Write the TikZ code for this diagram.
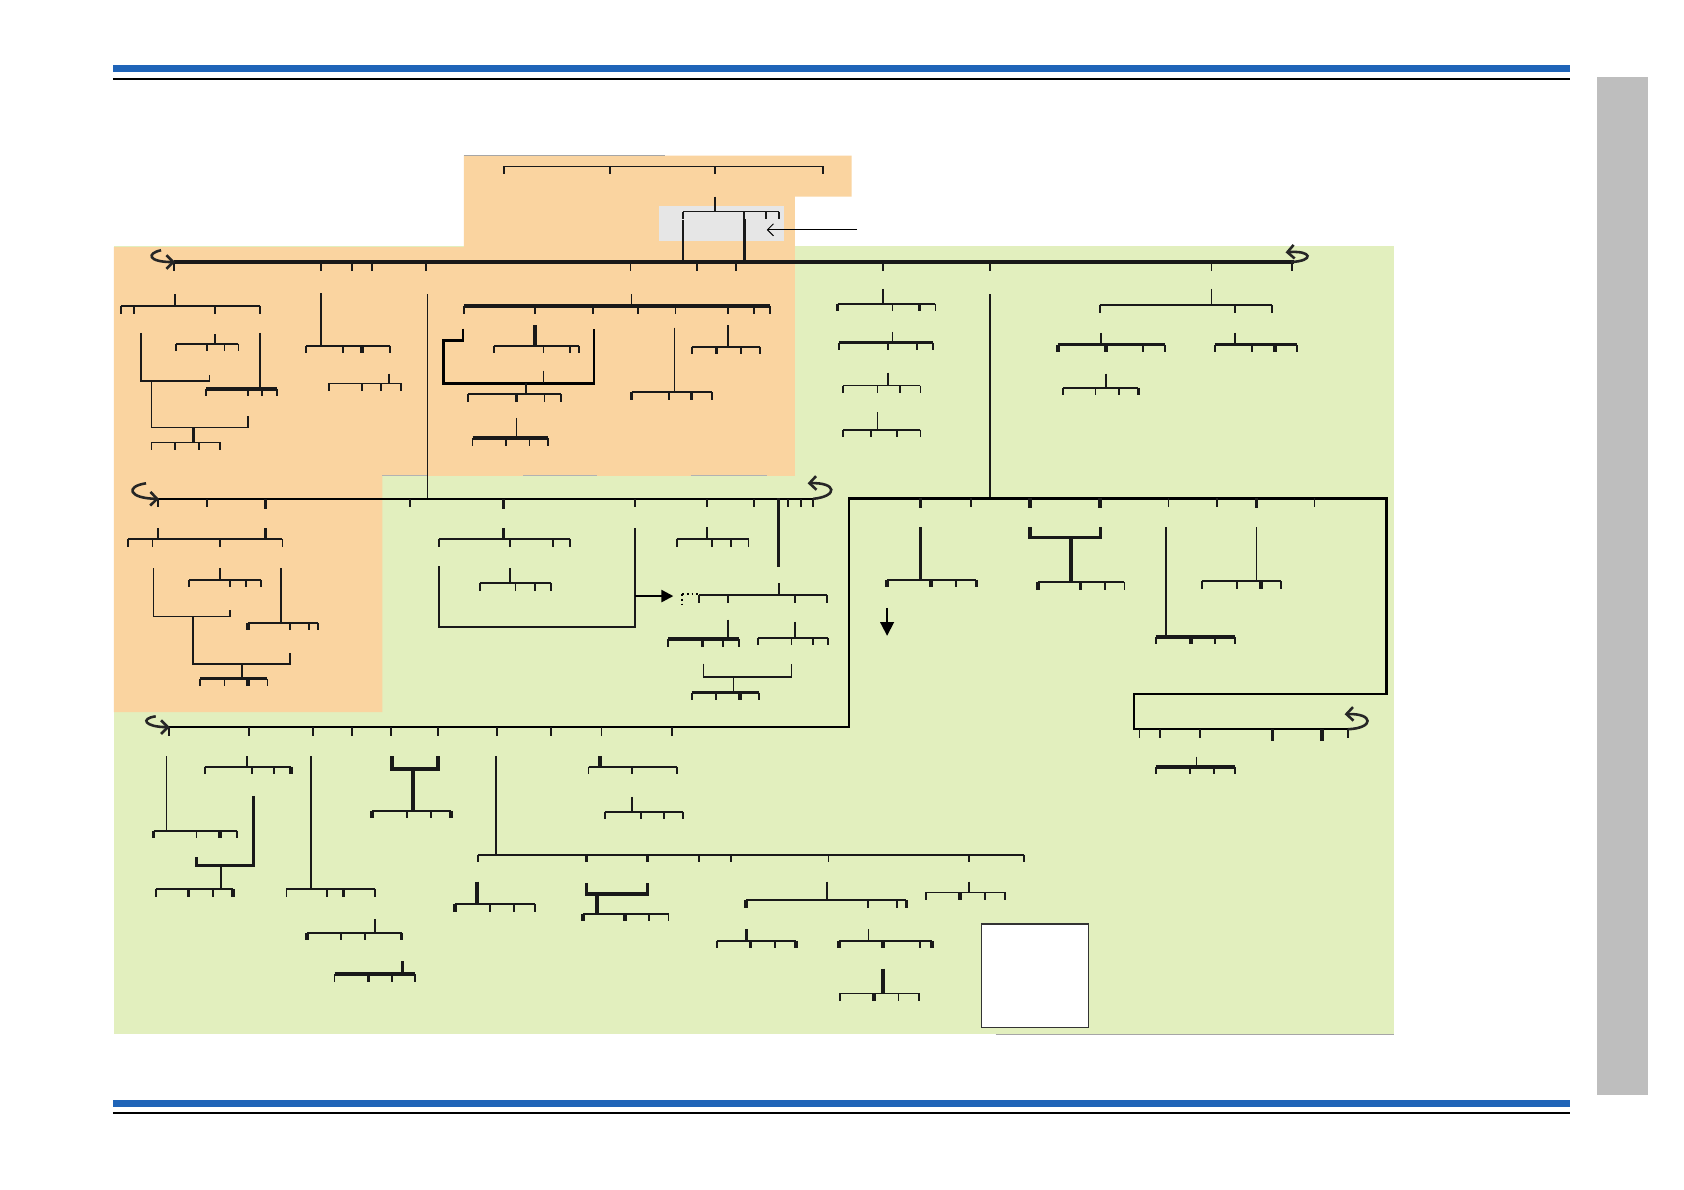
\documentclass[tikz,border=0pt]{standalone}
\usetikzlibrary{arrows.meta}
\definecolor{hblue}{HTML}{1F64B8}
\definecolor{sidegray}{HTML}{BEBEBE}
\definecolor{orng}{HTML}{FAD4A0}
\definecolor{grn}{HTML}{E2EFBE}
\definecolor{lgray}{HTML}{E6E6E6}
\tikzset{
  ln/.style={line width=1.2pt,draw=black!90},
  tk/.style={line width=2.3pt,draw=black!90},
  mainln/.style={line width=2.4pt,draw=black!90},
  curly/.style={line width=1.7pt,draw=black!85,-{Straight Barb[length=4.5pt,width=9pt]}},
}
\newcommand\mybar[4]{\draw[ln] (#2,#1) -- (#3,#1); \foreach \p in {#4}{\draw[ln] (\p,#1) -- ++(0,7);}}
\newcommand\mybark[4]{\draw[tk] (#2,#1) -- (#3,#1); \foreach \p in {#4}{\draw[ln] (\p,#1) -- ++(0,7);}}
\newcommand\mytk[2]{\foreach \p in {#2}{\draw[tk] (\p,#1) -- ++(0,7);}}
\begin{document}
\begin{tikzpicture}[x=0.25mm,y=-0.25mm]
\useasboundingbox (0,0) rectangle (1568,1108);
\fill[white] (0,0) rectangle (1568,1108);
% header / footer
\fill[hblue] (105,60.5) rectangle (1462,67.5);
\draw[line width=1.4pt] (105,73.5) -- (1462,73.5);
\fill[hblue] (105,1024) rectangle (1462,1031);
\draw[line width=1.4pt] (105,1036.5) -- (1462,1036.5);
\fill[sidegray] (1487,72) rectangle (1534,1020);
% backgrounds
\fill[grn] (106,229) rectangle (1298,963);
\fill[orng] (432,145) -- (793,145) -- (793,183) -- (740,183) -- (740,443) -- (356,443) -- (356,663) -- (106,663) -- (106,230) -- (432,230) -- cycle;
\fill[lgray] (614,192) rectangle (730,224);
\draw[gray!70,line width=0.8pt] (432,145) -- (619,145);
\draw[gray!60,line width=0.8pt] (356,443) -- (398,443) (487,443) -- (556,443) (643,443) -- (714,443);
\draw[gray!70,line width=0.8pt] (927,963) -- (1298,963);
% top box tree
\mybar{155}{469}{766}{469,568,666,766}
\draw[ln] (666,183) -- (666,197);
\mybar{197}{636}{725}{636,693,713,725}
\draw[ln] (636,205) -- (636,244);
\draw[tk] (693,204) -- (693,244);
\draw[line width=0.6pt,-{Straight Barb[length=4pt,width=8pt]}] (798,214) -- (714,214);
% main line 1
\draw[mainln] (162,244) -- (1205,244);
\foreach \p in {162,299,328,346,397,587,649,685,822,922,1128,1203}{\draw[ln] (\p,244) -- ++(0,8);}
\draw[curly] (150,233) .. controls (136,236) and (138,244) .. (163,244);
\draw[curly] (1202,244) .. controls (1224,243) and (1222,233) .. (1197,235);
% subtree A
\draw[ln] (163,274) -- (163,285);
\mybar{285}{113}{242}{113,125,200,242}
\draw[ln] (131,310) -- (131,355) -- (195,355) -- (195,349);
\draw[ln] (200,311) -- (200,320);
\mybar{320}{164}{222}{164,193,209,222}
\draw[ln] (242,310) -- (242,362);
\mybark{362}{192}{258}{192,231,244,258}
\draw[ln] (141,355) -- (141,398) -- (231,398) -- (231,387);
\draw[tk] (180,398) -- (180,412);
\mybar{412}{141}{205}{141,163,185,205}
% subtree B
\draw[ln] (299,273) -- (299,322);
\mybar{322}{285}{363}{285,319,363}
\mytk{322}{337}
\draw[ln] (362,348) -- (362,357);
\mybar{357}{306}{373}{306,337,355,373}
% C
\draw[ln] (398,274) -- (398,464);
% subtree D
\draw[ln] (588,274) -- (588,285);
\mybark{285}{432}{717}{432,498,552,594,629,678,702,717}
\draw[line width=1.5pt] (431,306) -- (431,317) -- (413,317) -- (413,357) -- (553,357) -- (553,306);
\draw[tk] (498,303) -- (498,322);
\mybar{322}{460}{539}{460,506,531,539}
\draw[ln] (506,345) -- (506,357);
\draw[ln] (490,357) -- (490,367);
\mybar{367}{436}{522}{436,507,522}
\mytk{367}{481}
\draw[ln] (481,389) -- (481,408);
\mybark{408}{440}{510}{440,471,493,510}
% subtree E
\draw[ln] (628,305) -- (628,365);
\mybar{365}{588}{663}{623,663}
\mytk{365}{588,644}
\draw[ln] (678,303) -- (678,322);
\mybar{323}{644}{708}{644,690,708}
\mytk{323}{667}
% subtree F
\draw[ln] (822,269) -- (822,283);
\mybar{283}{780}{871}{831,871}
\mytk{283}{780,856}
\draw[ln] (831,309) -- (831,319);
\mybark{319}{781}{869}{781,827,854,869}
\draw[ln] (827,347) -- (827,359);
\mybar{359}{785}{857}{785,817,838,857}
\draw[ln] (817,384) -- (817,400);
\mybar{400}{785}{857}{785,811,835,857}
\draw[ln] (922,274) -- (922,464);
% subtree G
\draw[ln] (1128,269) -- (1128,284);
\mybar{284}{1024}{1184}{1024,1150,1184}
\draw[ln] (1025,310) -- (1025,321);
\mybark{321}{985}{1085}{1064,1085}
\mytk{321}{985,1030}
\draw[ln] (1150,310) -- (1150,321);
\mybark{321}{1131}{1208}{1131,1166,1208}
\mytk{321}{1187}
\draw[ln] (1030,348) -- (1030,361);
\mybar{361}{990}{1060}{990,1020,1042}
\mytk{361}{1060}
% main line 2
\draw[line width=1.6pt] (147,464.5) -- (760,464.5);
\foreach \p in {147,193,382,591,658,702,734,746,757}{\draw[ln] (\p,464.5) -- ++(0,8);}
\foreach \p in {247,469}{\draw[tk] (\p,464.5) -- ++(0,9);}
\draw[curly] (136,450) .. controls (116,453) and (120,464) .. (148,464.5);
\draw[curly] (757,464.5) .. controls (781,462) and (779,449) .. (752,450);
% subtree H
\draw[ln] (147,492) -- (147,502);
\draw[tk] (247,492) -- (247,502);
\mybar{502}{119}{263}{119,142,205,263}
\draw[ln] (143,529) -- (143,574) -- (214,574) -- (214,568);
\draw[ln] (205,529) -- (205,540);
\mybar{540}{176}{243}{176,214,229,243}
\draw[ln] (262,529) -- (262,580);
\mybar{580}{231}{296}{270,288,296}
\mytk{580}{231}
\draw[ln] (180,574) -- (180,618) -- (270,618) -- (270,608);
\draw[ln] (225,618) -- (225,632);
\mybark{632}{186}{249}{186,209,249}
\mytk{632}{231}
% subtree I
\draw[tk] (469,492) -- (469,502);
\mybar{502}{409}{531}{409,475,515,531}
\draw[ln] (591,492) -- (591,584) -- (409,584) -- (409,527);
\draw[line width=1.6pt,-{Triangle[length=8pt,width=8pt]}] (591,555) -- (627,555);
\draw[line width=1.2pt,dotted] (635,553) -- (651,553) (635,553) -- (635,563);
\draw[ln] (475,529) -- (475,543);
\mybar{543}{447}{513}{447,480,498,513}
% subtree J
\draw[ln] (658,491) -- (658,502);
\mybar{502}{630}{697}{630,663,681,697}
% subtree K
\draw[tk] (725,464) -- (725,528);
\draw[ln] (725,543) -- (725,554);
\mybar{554}{651}{770}{651,678,740,770}
\draw[ln] (678,577) -- (678,595);
\mybark{595}{622}{688}{622,673,688}
\mytk{595}{654}
\draw[ln] (740,579) -- (740,594);
\mybar{594}{706}{771}{706,737,757,771}
\draw[ln] (655,618) -- (655,630) -- (737,630) -- (737,618);
\draw[ln] (683,630) -- (683,645);
\mybark{645}{644}{707}{644,667,707}
\mytk{645}{689}
% main line 3 and box
\draw[line width=1.6pt] (157,677) -- (790.5,677) -- (790.5,464) -- (1291,464) -- (1291,646) -- (1056,646) -- (1056,679) -- (1258,679);
\foreach \p in {157,232,291.5,328,364,408,463,513,560,626}{\draw[ln] (\p,677) -- ++(0,8);}
\draw[curly] (145,667) .. controls (130,669) and (135,677) .. (158,677);
\foreach \p in {904,1088,1133,1224}{\draw[ln] (\p,464) -- ++(0,8);}
\foreach \p in {857,959,1024,1170}{\draw[tk] (\p,464) -- ++(0,9);}
\foreach \p in {1061,1080,1117,1255}{\draw[ln] (\p,679) -- ++(0,8);}
\foreach \p in {1185,1231}{\draw[tk] (\p,679) -- ++(0,11);}
\draw[curly] (1255,679) .. controls (1280,678) and (1279,664) .. (1252,665);
% subtree L
\draw[tk] (857,491) -- (857,540);
\mybar{540}{826}{909}{890}
\mytk{540}{826,867,909}
\draw[line width=1.2pt,-{Triangle[length=9pt,width=9pt]}] (826,566) -- (826,592);
% subtree M
\draw[tk] (959,491) -- (959,500.6) -- (1024.6,500.6) -- (1024.6,491);
\draw[tk] (997,500.6) -- (997,542);
\mybar{542}{966.5}{1047}{1028.5,1047}
\mytk{542}{966.5,1006}
% subtree N
\draw[ln] (1086,491) -- (1086,593);
\mybark{593}{1076}{1150}{1076,1131,1150}
\mytk{593}{1109}
% subtree O
\draw[ln] (1170,491) -- (1170,541);
\mybar{541}{1119}{1193}{1119,1152,1193}
\mytk{541}{1174}
% subtree P
\draw[ln] (1114,704.5) -- (1114,714);
\mybark{714}{1076}{1150}{1076,1108,1130,1150}
% subtree Q
\draw[ln] (155,704) -- (155,773.5);
\mybar{773.5}{143}{220.5}{183,220.5}
\mytk{773.5}{143,205}
% subtree R
\draw[ln] (230,704) -- (230,714);
\mybar{714}{190.5}{271}{190.5,235,255}
\mytk{714}{271}
\draw[tk] (236,741) -- (236,806) -- (183,806) -- (183,798);
\draw[ln] (206,806) -- (206,828);
\mybar{828}{145.6}{217}{145.6,198}
\mytk{828}{175.6,217}
% subtree S
\draw[ln] (289.6,704) -- (289.6,828);
\mybar{828}{266.7}{349}{266.7,304.5,349}
\mytk{828}{320}
% subtree T
\draw[ln] (349,856) -- (349,868.5);
\mybar{868.5}{286}{374}{317.5,340}
\mytk{868.5}{286,374}
% subtree U
\draw[tk] (374.8,895) -- (374.8,907);
\mybark{907}{311.5}{386.4}{311.5,364.8,386.4}
\mytk{907}{343}
% subtree V
\draw[tk] (364.8,704) -- (364.8,716) -- (408,716) -- (408,704);
\draw[tk] (384.6,716) -- (384.6,755);
\mybar{755}{346.4}{420}{379,401}
\mytk{755}{346.4,420}
% subtree W
\draw[ln] (461.8,704) -- (461.8,796);
\mybar{796}{445}{953.6}{445,650.8,681,771.4,902,953.6}
\mytk{796}{546,603}
% subtree X
\draw[tk] (558.7,704) -- (558.7,714);
\mybar{714}{548}{630}{548,588.5,630}
\draw[ln] (588.5,742) -- (588.5,756);
\mybar{756}{563}{636}{563,597,618,636}
% subtree Y
\draw[tk] (444,821) -- (444,842);
\mybar{842}{423.5}{497.8}{456.3,478.3,497.8}
\mytk{842}{423.5}
% subtree Z
\draw[tk] (546,822) -- (546,832.4) -- (603,832.4) -- (603,822);
\draw[tk] (556,832.4) -- (556,851);
\mybar{851}{543}{622.5}{604,622.5}
\mytk{851}{543,582}
% subtree AA
\draw[ln] (769.7,821) -- (769.7,838);
\mybar{838}{694.7}{844}{808,835}
\mytk{838}{694.7,844}
% subtree AB
\draw[ln] (902,821) -- (902,831);
\mybar{831}{862}{935.5}{862,916.8,935.5}
\mytk{831}{894}
% subtree AC
\draw[tk] (695,865) -- (695,876);
\mybar{876}{667.5}{741}{667.5,721.6}
\mytk{876}{699,741}
% subtree AD
\draw[ln] (808.7,865) -- (808.7,876);
\mybar{876}{781}{867.8}{856.6}
\mytk{876}{781,822,867.8}
% subtree AE
\draw[tk] (822,902) -- (822,925);
\mybar{925}{781.8}{855.7}{781.8,836.6,855.7}
\mytk{925}{814}
% white box
\filldraw[fill=white,draw=black!80,line width=0.8pt] (914,860.3) rectangle (1013.7,957);
\end{tikzpicture}
\end{document}
